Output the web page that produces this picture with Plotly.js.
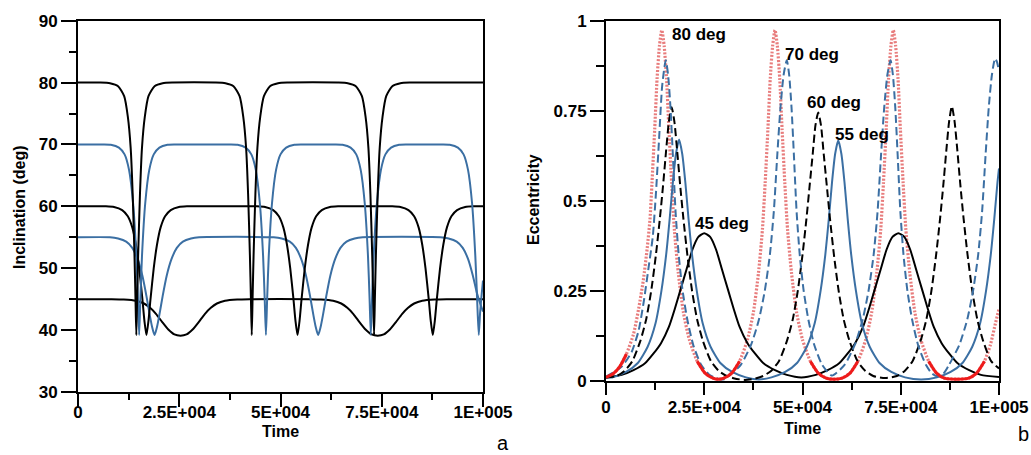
<!DOCTYPE html>
<html>
<head>
<meta charset="utf-8">
<script src="https://cdn.plot.ly/plotly-3.0.1.min.js"></script>
<style>html,body{margin:0;padding:0;background:#fff;}#chart{width:1031px;height:455px;}</style>
</head>
<body>
<div id="chart"></div>
<script>
// Time values in units of 1000 (converted to absolute time when plotted)
const timeTickVals = [0, 25000, 50000, 75000, 100000];
const timeTickText = ['0', '2.5E+004', '5E+004', '7.5E+004', '1E+005'];
const incTickVals = [30, 40, 50, 60, 70, 80, 90];
const eccTickVals = [0, 0.25, 0.5, 0.75, 1];
const eccTickText = ['0', '0.25', '0.5', '0.75', '1'];

// Panel a: inclination (deg) vs time
const incT80 = [0,5.4,7.9,9.9,11.4,12.3,13.0,13.5,13.95,14.2,14.4,14.6,14.85,15.3,15.8,16.5,17.4,18.9,20.9,23.4,
  33.9,36.4,38.4,39.9,40.8,41.5,42.0,42.45,42.7,42.9,43.1,43.35,43.8,44.3,45.0,45.9,47.4,49.4,51.9,
  64.1,66.6,68.6,70.1,71.0,71.7,72.2,72.65,72.9,73.1,73.3,73.55,74.0,74.5,75.2,76.1,77.6,79.6,82.1,100];
const inc80 = [80,80,79.9,79.4,77.8,74.5,69.5,62,52,45,39.2,45,52,62,69.5,74.5,77.8,79.4,79.9,80,
  80,79.9,79.4,77.8,74.5,69.5,62,52,45,39.2,45,52,62,69.5,74.5,77.8,79.4,79.9,80,
  80,79.9,79.4,77.8,74.5,69.5,62,52,45,39.2,45,52,62,69.5,74.5,77.8,79.4,79.9,80,80];

const incT70 = [0,6.1,8.1,10.1,11.5,12.6,13.6,14.4,14.8,15.1,15.4,15.8,16.6,17.6,18.7,20.1,22.1,24.1,
  37.4,39.4,41.4,42.8,43.9,44.9,45.7,46.1,46.4,46.7,47.1,47.9,48.9,50.0,51.4,53.4,55.4,
  63.3,65.3,67.3,68.7,69.8,70.8,71.6,72.0,72.3,72.6,73.0,73.8,74.8,75.9,77.3,79.3,81.3,
  89.8,91.8,93.8,95.2,96.3,97.3,98.1,98.55,98.95,99.3,99.7,100];
const inc70 = [70,70,69.95,69.5,68.4,65.9,60.5,52,45,39.2,45,52,60.5,65.9,68.4,69.5,69.95,70,
  70,69.95,69.5,68.4,65.9,60.5,52,45,39.2,45,52,60.5,65.9,68.4,69.5,69.95,70,
  70,69.95,69.5,68.4,65.9,60.5,52,45,39.2,45,52,60.5,65.9,68.4,69.5,69.95,70,
  70,69.95,69.5,68.4,65.9,60.5,52,45,39.2,43,46,48];

const incT60 = [0,6.9,8.9,10.9,12.3,13.4,14.3,15.1,15.9,16.4,16.9,17.4,17.9,18.7,19.5,20.4,21.5,22.9,24.9,26.9,
  44.2,46.2,48.2,49.6,50.7,51.6,52.4,53.2,53.7,54.2,54.7,55.2,56.0,56.8,57.7,58.8,60.2,62.2,64.2,
  77.6,79.6,81.6,83.0,84.1,85.0,85.8,86.6,87.1,87.6,88.1,88.6,89.4,90.2,91.1,92.2,93.6,95.6,97.6,100];
const inc60 = [60,60,59.9,59.4,58.4,56.6,53.8,50,45,41.5,39.2,41.5,45,50,53.8,56.6,58.4,59.4,59.9,60,
  60,59.9,59.4,58.4,56.6,53.8,50,45,41.5,39.2,41.5,45,50,53.8,56.6,58.4,59.4,59.9,60,
  60,59.9,59.4,58.4,56.6,53.8,50,45,41.5,39.2,41.5,45,50,53.8,56.6,58.4,59.4,59.9,60,60];

const incT55 = [0,7.9,9.9,11.9,13.4,14.7,15.9,16.9,17.7,18.3,18.9,19.5,20.1,20.9,21.9,23.1,24.4,25.9,27.9,29.9,
  48.3,50.3,52.3,53.8,55.1,56.3,57.3,58.1,58.7,59.3,59.9,60.5,61.3,62.3,63.5,64.8,66.3,68.3,70.3,
  89.5,91.5,93.5,95.0,96.3,97.5,98.5,99.3,100];
const inc55 = [55,55,54.8,54.3,53.3,51.5,48.8,45.5,42.5,40.5,39.2,40.5,42.5,45.5,48.8,51.5,53.3,54.3,54.8,55,
  55,54.8,54.3,53.3,51.5,48.8,45.5,42.5,40.5,39.2,40.5,42.5,45.5,48.8,51.5,53.3,54.3,54.8,55,
  55,54.8,54.3,53.3,51.5,48.8,46,44.3,43];

const incT45 = [0,8.3,11.3,14.3,16.3,17.8,19.3,20.8,22.3,23.8,25.3,26.8,28.3,29.8,31.3,32.8,34.3,36.3,39.3,42.3,
  57,60,63,65,66.5,68,69.5,71,72.5,74,75.5,77,78.5,80,81.5,83,85,88,91,100];
const inc45 = [45,45,44.95,44.75,44.3,43.6,42.6,41.3,40.1,39.3,39.1,39.3,40.1,41.3,42.6,43.6,44.3,44.75,44.95,45,
  45,44.95,44.75,44.3,43.6,42.6,41.3,40.1,39.3,39.1,39.3,40.1,41.3,42.6,43.6,44.3,44.75,44.95,45,45];

// Panel b: eccentricity vs time
const eccT80 = [0,1.8,3.5,5.2,7.0,8.3,9.5,10.5,11.2,11.7,12.4,13.0,13.6,14.2,14.8,15.4,16.0,16.7,17.4,18.4,
  19.7,21.2,23.2,25.2,27.2,28.6,30.0,32.0,34.0,36.0,37.5,38.8,39.8,40.5,41.2,41.8,42.4,43.0,43.6,44.2,
  44.8,45.5,46.2,47.2,48.5,50.0,52.0,54.0,56.0,58.1,60.1,62.1,64.1,66.1,67.6,68.9,69.9,70.6,71.3,71.9,
  72.5,73.1,73.7,74.3,74.9,75.6,76.3,77.3,78.6,80.1,82.1,84.1,86.1,89.2,92.3,94.3,96.3,97.8,99.1,100];
const ecc80 = [0.01,0.02,0.04,0.075,0.13,0.2,0.28,0.37,0.45,0.55,0.70,0.84,0.93,0.974,0.93,0.84,0.70,0.55,0.42,0.30,
  0.19,0.115,0.055,0.022,0.008,0.005,0.008,0.022,0.055,0.115,0.19,0.30,0.42,0.55,0.70,0.84,0.93,0.974,0.93,0.84,
  0.70,0.55,0.42,0.30,0.19,0.115,0.055,0.022,0.008,0.005,0.008,0.022,0.055,0.115,0.19,0.30,0.42,0.55,0.70,0.84,
  0.93,0.974,0.93,0.84,0.70,0.55,0.42,0.30,0.19,0.115,0.055,0.022,0.008,0.005,0.008,0.022,0.055,0.1,0.16,0.2];

const eccT70 = [0,4,6.5,8.3,9.6,10.9,11.9,12.7,13.5,14.3,15.2,15.8,16.4,17.0,17.7,18.5,19.5,20.7,22.2,24.2,
  26.2,28.2,30.0,31.7,34.3,36.9,38.9,40.4,41.7,42.7,43.6,44.4,45.2,46.0,46.6,47.2,47.8,48.5,49.3,50.3,
  51.5,53.0,55.0,57.5,60.7,63.3,65.3,66.8,68.1,69.1,70.0,70.8,71.6,72.4,73.0,73.6,74.2,74.9,75.7,76.7,
  77.9,79.4,81.4,83.0,84.5,86.0,87.3,89.9,91.9,93.4,94.7,95.7,96.6,97.4,98.2,99.0,99.5,100];
const ecc70 = [0.012,0.04,0.08,0.14,0.22,0.32,0.40,0.52,0.67,0.82,0.89,0.85,0.76,0.63,0.47,0.35,0.25,0.17,0.10,0.045,
  0.018,0.007,0.005,0.018,0.045,0.10,0.17,0.25,0.35,0.47,0.63,0.76,0.85,0.89,0.85,0.76,0.63,0.47,0.35,0.25,
  0.17,0.10,0.045,0.015,0.045,0.10,0.17,0.25,0.35,0.47,0.63,0.76,0.85,0.89,0.85,0.76,0.63,0.47,0.35,0.25,
  0.17,0.10,0.045,0.02,0.013,0.022,0.045,0.10,0.17,0.25,0.35,0.47,0.63,0.76,0.85,0.895,0.885,0.86];

const eccT60 = [0,2.7,4.7,6.7,8.7,10.2,11.5,12.7,13.7,14.5,15.3,16.0,16.7,17.4,18.1,18.9,19.7,20.7,21.9,23.2,
  24.7,26.7,28.7,30.7,32.7,35.35,38.0,40.0,42.0,44.0,46.0,47.5,48.8,50.0,51.0,51.8,52.6,53.3,54.0,54.7,
  55.4,56.2,57.0,58.0,59.2,60.5,62.0,64.0,66.0,68.0,71.0,74.0,76.0,78.0,80.0,81.5,82.8,84.0,85.0,85.8,
  86.6,87.3,88.0,88.7,89.4,90.2,91.0,92.0,93.2,94.5,96.0,98.0,100];
const ecc60 = [0.01,0.014,0.028,0.055,0.11,0.17,0.25,0.35,0.45,0.54,0.64,0.72,0.76,0.72,0.64,0.54,0.45,0.35,0.25,0.17,
  0.11,0.055,0.028,0.014,0.007,0.003,0.007,0.014,0.028,0.055,0.11,0.17,0.25,0.35,0.45,0.54,0.63,0.71,0.745,0.71,
  0.63,0.54,0.45,0.35,0.25,0.17,0.11,0.055,0.028,0.014,0.008,0.014,0.028,0.055,0.11,0.17,0.25,0.35,0.45,0.54,
  0.64,0.72,0.763,0.72,0.64,0.54,0.45,0.35,0.25,0.17,0.11,0.055,0.035];

const eccT55 = [0,1.6,5.1,8.1,10.6,12.6,14.1,15.3,16.2,17.0,17.8,18.6,19.4,20.2,21.0,21.9,23.1,24.6,26.6,29.1,
  32.1,35.6,38.9,42.1,45.6,48.6,51.1,53.1,54.6,55.8,56.7,57.5,58.3,59.1,59.9,60.7,61.5,62.4,63.6,65.1,
  67.1,69.6,72.6,76.1,80.2,84.2,87.7,90.7,93.2,95.2,96.7,97.9,98.8,99.6,100];
const ecc55 = [0.01,0.01,0.025,0.05,0.095,0.16,0.25,0.35,0.45,0.55,0.63,0.67,0.63,0.55,0.45,0.35,0.25,0.16,0.095,0.05,
  0.025,0.01,0.004,0.01,0.025,0.05,0.095,0.16,0.25,0.35,0.45,0.55,0.63,0.668,0.63,0.55,0.45,0.35,0.25,0.16,
  0.095,0.05,0.025,0.01,0.004,0.01,0.025,0.05,0.095,0.16,0.25,0.35,0.45,0.55,0.59];

const eccT45 = [0,4,7,10,12,14,16,17.5,19,20.5,22,23.5,25,26.5,28,29.5,31,32.5,34,36,
  38,40,43,46,49.7,53.4,56.4,59.4,61.4,63.4,65.4,66.9,68.4,69.9,71.4,72.9,74.4,75.9,77.4,78.9,
  80.4,81.9,83.4,85.4,87.4,89.4,92.4,95.4,100];
const ecc45 = [0.01,0.017,0.03,0.05,0.075,0.105,0.15,0.2,0.255,0.31,0.365,0.40,0.41,0.40,0.365,0.31,0.255,0.2,0.15,0.105,
  0.075,0.05,0.03,0.017,0.01,0.017,0.03,0.05,0.075,0.105,0.15,0.2,0.255,0.31,0.365,0.40,0.41,0.40,0.365,0.31,
  0.255,0.2,0.15,0.105,0.075,0.05,0.03,0.017,0.011];

const curveLabels = ['80 deg', '70 deg', '60 deg', '55 deg', '45 deg'];
const labelX = [16.3, 45.0, 50.6, 57.8, 22.1];
const labelY = [0.963, 0.905, 0.774, 0.683, 0.438];

const KT = 1000;
const tt = a => a.map(v => v * KT);
const BLUE = '#3b6fa3';
const BLACK = '#000000';
const FONT = 'Liberation Sans, Arial, Helvetica, sans-serif';

function line(x, y, color, dash, xa, ya, width) {
  return {x: tt(x), y: y, type: 'scatter', mode: 'lines', xaxis: xa, yaxis: ya,
    line: {color: color, width: width || 2, dash: dash || 'solid', shape: 'spline', smoothing: 0.6},
    hoverinfo: 'skip', showlegend: false};
}

const redSolidY = ecc80.map(v => (v <= 0.08 ? v : null));

const traces = [
  line(incT45, inc45, BLACK, 'solid', 'x', 'y'),
  line(incT55, inc55, BLUE, 'solid', 'x', 'y'),
  line(incT60, inc60, BLACK, 'solid', 'x', 'y'),
  line(incT70, inc70, BLUE, 'solid', 'x', 'y'),
  line(incT80, inc80, BLACK, 'solid', 'x', 'y'),

  line(eccT80, ecc80, 'rgb(232,125,125)', '2px,1.6px', 'x2', 'y2', 3.2),
  line(eccT45, ecc45, BLACK, 'solid', 'x2', 'y2'),
  line(eccT55, ecc55, BLUE, 'solid', 'x2', 'y2'),
  line(eccT60, ecc60, BLACK, '8px,4px', 'x2', 'y2'),
  line(eccT70, ecc70, BLUE, '8px,4px', 'x2', 'y2'),
  line(eccT80, redSolidY, '#ee1b1b', 'solid', 'x2', 'y2', 3)
];

const tickFont = {family: FONT, size: 17, color: '#000', weight: 700};
const axisCommon = {
  showline: true, linewidth: 2, linecolor: '#000', mirror: true,
  ticks: 'outside', tickwidth: 2, tickcolor: '#000',
  showgrid: false, zeroline: false, fixedrange: true,
  tickfont: tickFont
};

const layout = {
  width: 1031, height: 455,
  margin: {l: 0, r: 0, t: 0, b: 0},
  paper_bgcolor: '#fff', plot_bgcolor: '#fff',
  font: {family: FONT, size: 16, color: '#000', weight: 700},
  showlegend: false,
  xaxis: Object.assign({}, axisCommon, {
    domain: [78/1031, 483/1031], anchor: 'y', range: [0, 100000],
    tickmode: 'array', tickvals: timeTickVals, ticktext: timeTickText, ticklen: 13,
    ticklabelstandoff: -9,
    minor: {tickmode: 'array', tickvals: [12500, 37500, 62500, 87500], ticklen: 6, tickwidth: 2, tickcolor: '#000', ticks: 'outside'}
  }),
  yaxis: Object.assign({}, axisCommon, {
    domain: [1 - 392/455, 1 - 20.7/455], anchor: 'x', range: [30, 90],
    tickmode: 'array', tickvals: incTickVals, ticklen: 15,
    minor: {tickmode: 'array', tickvals: [35, 45, 55, 65, 75, 85], ticklen: 7, tickwidth: 2, tickcolor: '#000', ticks: 'outside'}
  }),
  xaxis2: Object.assign({}, axisCommon, {
    domain: [606/1031, 999/1031], anchor: 'y2', range: [0, 100000],
    tickmode: 'array', tickvals: timeTickVals, ticktext: timeTickText, ticklen: 12,
    ticklabelstandoff: -2,
    minor: {tickmode: 'array', tickvals: [12500, 37500, 62500, 87500], ticklen: 7, tickwidth: 2, tickcolor: '#000', ticks: 'outside'}
  }),
  yaxis2: Object.assign({}, axisCommon, {
    domain: [1 - 381/455, 1 - 20.7/455], anchor: 'x2', range: [0, 1],
    tickmode: 'array', tickvals: eccTickVals, ticktext: eccTickText, ticklen: 14,
    minor: {tickmode: 'array', tickvals: [0.125, 0.375, 0.625, 0.875], ticklen: 8, tickwidth: 2, tickcolor: '#000', ticks: 'outside'}
  }),
  annotations: []
};

const bold16 = {family: FONT, size: 16, color: '#000', weight: 700};
layout.annotations.push(
  {text: 'Inclination (deg)', xref: 'paper', yref: 'paper', x: 20/1031, y: 1 - 207/455, textangle: -90, showarrow: false, xanchor: 'center', yanchor: 'middle', font: bold16},
  {text: 'Time', xref: 'paper', yref: 'paper', x: 280/1031, y: 1 - 431/455, showarrow: false, xanchor: 'center', yanchor: 'middle', font: bold16},
  {text: 'Eccentricity', xref: 'paper', yref: 'paper', x: 533/1031, y: 1 - 200/455, textangle: -90, showarrow: false, xanchor: 'center', yanchor: 'middle', font: bold16},
  {text: 'Time', xref: 'paper', yref: 'paper', x: 802/1031, y: 1 - 428/455, showarrow: false, xanchor: 'center', yanchor: 'middle', font: bold16},
  {text: 'a', xref: 'paper', yref: 'paper', x: 503/1031, y: 1 - 443/455, showarrow: false, xanchor: 'center', yanchor: 'middle', font: {family: FONT, size: 20, color: '#000', weight: 400}},
  {text: 'b', xref: 'paper', yref: 'paper', x: 1023/1031, y: 1 - 434/455, showarrow: false, xanchor: 'center', yanchor: 'middle', font: {family: FONT, size: 20, color: '#000', weight: 400}}
);
curveLabels.forEach((t, i) => {
  layout.annotations.push({text: t, xref: 'x2', yref: 'y2', x: labelX[i] * KT, y: labelY[i], showarrow: false,
    xanchor: 'left', yanchor: 'middle', font: {family: FONT, size: 17, color: '#000', weight: 700}});
});

Plotly.newPlot('chart', traces, layout, {staticPlot: true, displayModeBar: false});
</script>
</body>
</html>
